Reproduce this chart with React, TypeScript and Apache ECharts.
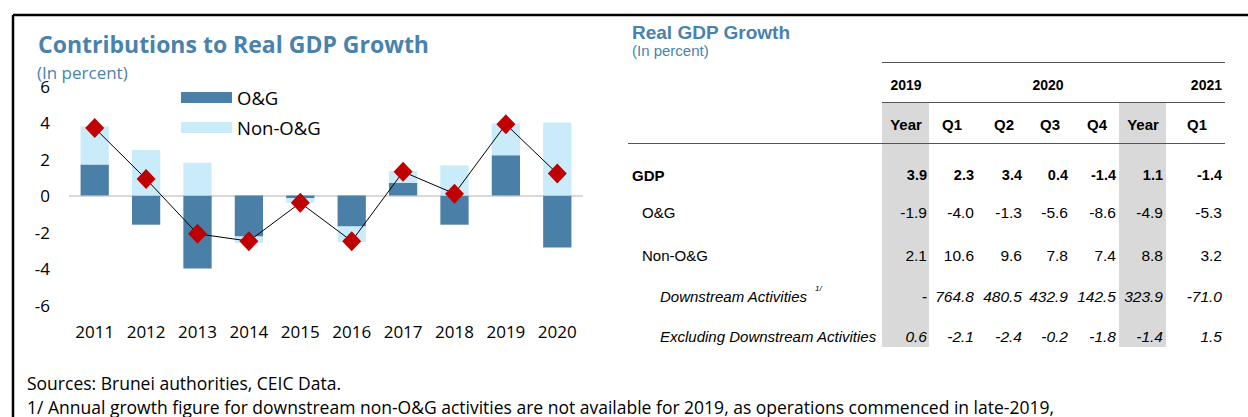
import React, { useEffect, useRef } from "react";
import * as echarts from "echarts";

// ---- Chart data ----
const years = ["2011", "2012", "2013", "2014", "2015", "2016", "2017", "2018", "2019", "2020"];
const oilGas = [1.7, -1.6, -4.0, -2.25, -0.15, -1.7, 0.7, -1.6, 2.2, -2.85];
const nonOilGas = [2.1, 2.5, 1.8, -0.35, -0.25, -0.85, 0.65, 1.65, 1.75, 4.0];
const gdpGrowth = [3.7, 0.9, -2.1, -2.5, -0.4, -2.5, 1.3, 0.1, 3.9, 1.2];
const yTicks = [-6, -4, -2, 0, 2, 4, 6];

// ---- Table data ----
const tableYears = ["2019", "2020", "2021"];
const tablePeriods = ["Year", "Q1", "Q2", "Q3", "Q4", "Year", "Q1"];
const rowLabels = ["GDP", "O&G", "Non-O&G", "Downstream Activities", "Excluding Downstream Activities"];
const rowGDP = [3.9, 2.3, 3.4, 0.4, -1.4, 1.1, -1.4];
const rowOG = [-1.9, -4.0, -1.3, -5.6, -8.6, -4.9, -5.3];
const rowNonOG = [2.1, 10.6, 9.6, 7.8, 7.4, 8.8, 3.2];
const rowDownstream = [null, 764.8, 480.5, 432.9, 142.5, 323.9, -71.0];
const rowExcluding = [0.6, -2.1, -2.4, -0.2, -1.8, -1.4, 1.5];

const footSources = "Sources: Brunei authorities, CEIC Data.";
const footNote =
  "1/ Annual growth figure for downstream non-O&G activities are not available for 2019, as operations commenced in late-2019,";

const BLUE_TITLE = "#4a82ae";
const DARK_BLUE = "#4a7fa8";
const LIGHT_BLUE = "#caebfa";
const SHADE = "#d9d9d9";

function fmt(v: number | null) {
  return v === null ? "-" : v.toFixed(1);
}

export default function App() {
  const ref = useRef<HTMLDivElement>(null);
  useEffect(() => {
    document.body.style.margin = "0";
    const chart = echarts.init(ref.current!, null, { renderer: "svg" });

    const sans = "'Open Sans', sans-serif";
    const arial = "'Liberation Sans', Arial, sans-serif";

    const txt = (
      text: string,
      x: number,
      y: number,
      opts: { size: number; weight?: string; style?: string; family?: string; fill?: string; align?: string }
    ) => ({
      type: "text",
      x,
      y,
      z: 10,
      style: {
        text,
        fontSize: opts.size,
        fontWeight: opts.weight || "normal",
        fontStyle: opts.style || "normal",
        fontFamily: opts.family || arial,
        fill: opts.fill || "#000",
        align: opts.align || "left",
        verticalAlign: "middle",
        textAlign: opts.align || "left",
        textVerticalAlign: "middle",
      },
    });

    const colRight = [927, 974, 1022, 1068, 1116, 1163, 1222];
    const colCenter = [906, 952, 1004, 1050, 1097, 1143, 1197];
    const rowY = [175, 212, 255, 296, 336];
    const rows = [rowGDP, rowOG, rowNonOG, rowDownstream, rowExcluding];
    const labelX = [632, 642, 642, 660, 660];

    const graphics: any[] = [];
    // border
    graphics.push({ type: "line", shape: { x1: 13, y1: 15, x2: 1248, y2: 15 }, style: { stroke: "#000", lineWidth: 2.5 } });
    graphics.push({ type: "line", shape: { x1: 13, y1: 15, x2: 13, y2: 417 }, style: { stroke: "#000", lineWidth: 2.5 } });
    // left titles
    graphics.push(txt("Contributions to Real GDP Growth", 38, 44, { size: 23, weight: "bold", family: sans, fill: BLUE_TITLE }));
    graphics.push(txt("(In percent)", 37, 72, { size: 17, family: sans, fill: BLUE_TITLE }));
    // right titles
    graphics.push(txt("Real GDP Growth", 632, 32, { size: 19, weight: "bold", fill: BLUE_TITLE }));
    graphics.push(txt("(In percent)", 632, 50, { size: 15, fill: BLUE_TITLE }));
    // shading
    graphics.push({ type: "rect", z: 1, shape: { x: 882, y: 103, width: 47, height: 244 }, style: { fill: SHADE } });
    graphics.push({ type: "rect", z: 1, shape: { x: 1119, y: 103, width: 47, height: 244 }, style: { fill: SHADE } });
    // rules
    graphics.push({ type: "line", z: 5, shape: { x1: 882, y1: 62.5, x2: 1225, y2: 62.5 }, style: { stroke: "#555", lineWidth: 1 } });
    graphics.push({ type: "line", z: 5, shape: { x1: 882, y1: 102.5, x2: 1225, y2: 102.5 }, style: { stroke: "#555", lineWidth: 1 } });
    graphics.push({ type: "line", z: 5, shape: { x1: 628, y1: 143.5, x2: 1225, y2: 143.5 }, style: { stroke: "#555", lineWidth: 1 } });
    // header
    graphics.push(txt(tableYears[0], colCenter[0], 85, { size: 14, weight: "bold", align: "center" }));
    graphics.push(txt(tableYears[1], 1048, 85, { size: 14, weight: "bold", align: "center" }));
    graphics.push(txt(tableYears[2], 1222, 85, { size: 14, weight: "bold", align: "right" }));
    tablePeriods.forEach((p, i) => {
      graphics.push(txt(p, colCenter[i], 124, { size: 15, weight: "bold", align: "center" }));
    });
    // rows
    rowLabels.forEach((lab, r) => {
      const italic = r >= 3;
      const bold = r === 0;
      graphics.push(
        txt(lab, labelX[r], rowY[r], { size: 15, weight: bold ? "bold" : "normal", style: italic ? "italic" : "normal" })
      );
      rows[r].forEach((v, c) => {
        graphics.push(
          txt(fmt(v as number | null), colRight[c], rowY[r], {
            size: bold ? 14.5 : 15.5,
            weight: bold ? "bold" : "normal",
            style: italic ? "italic" : "normal",
            align: "right",
          })
        );
      });
    });
    graphics.push(txt("1/", 815, 288, { size: 8, style: "italic" }));
    // footnotes
    graphics.push(txt(footSources, 27, 383, { size: 17.5, family: sans }));
    graphics.push(txt(footNote, 27, 407, { size: 17.5, family: sans }));

    const splitColors = yTicks.map((t) => (t === 0 ? SHADE : "rgba(0,0,0,0)"));

    chart.setOption({
      animation: false,
      grid: { left: 69, right: 665, top: 86, bottom: 112, containLabel: false },
      legend: {
        data: ["O&G", "Non-O&G"],
        orient: "vertical",
        left: 181,
        top: 88,
        padding: 0,
        itemWidth: 51,
        itemHeight: 11,
        itemGap: 11,
        icon: "rect",
        textStyle: { fontFamily: sans, fontSize: 18.5, color: "#000", lineHeight: 19, padding: [0, 0, 0, 0] },
        itemStyle: { borderWidth: 0 },
      },
      xAxis: {
        type: "category",
        data: years,
        axisLine: { show: false },
        axisTick: { show: false },
        axisLabel: { fontFamily: sans, fontSize: 17, color: "#000", margin: 18 },
      },
      yAxis: {
        type: "value",
        min: -6,
        max: 6,
        interval: 2,
        axisLine: { show: false },
        axisTick: { show: false },
        axisLabel: { fontFamily: sans, fontSize: 17, color: "#000", margin: 19 },
        splitLine: { show: true, lineStyle: { color: splitColors, width: 2 } },
      },
      series: [
        {
          name: "O&G",
          type: "bar",
          stack: "contrib",
          data: oilGas,
          barWidth: "55%",
          itemStyle: { color: DARK_BLUE },
        },
        {
          name: "Non-O&G",
          type: "bar",
          stack: "contrib",
          data: nonOilGas,
          barWidth: "55%",
          itemStyle: { color: LIGHT_BLUE },
        },
        {
          name: "GDP",
          type: "line",
          data: gdpGrowth,
          symbol: "diamond",
          symbolSize: [19, 20],
          z: 5,
          lineStyle: { color: "#000", width: 1 },
          itemStyle: { color: "#c00000" },
        },
      ],
      graphic: graphics,
    });
    return () => chart.dispose();
  }, []);
  return <div ref={ref} style={{ width: 1248, height: 417 }} />;
}
